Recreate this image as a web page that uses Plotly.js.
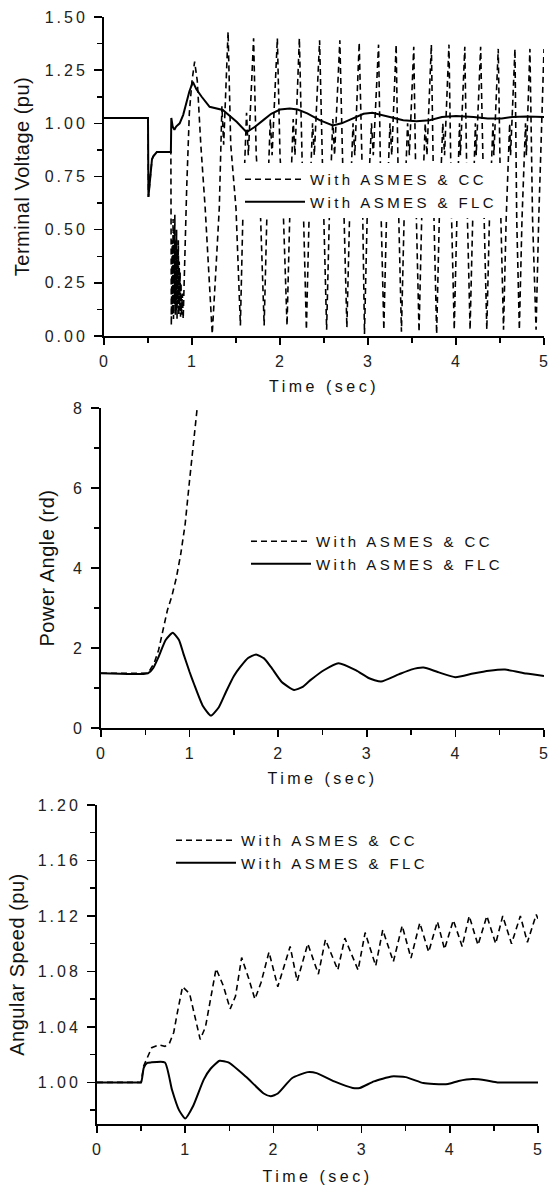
<!DOCTYPE html>
<html>
<head>
<meta charset="utf-8">
<script src="https://cdn.plot.ly/plotly-3.0.1.min.js"></script>
<style>
  html, body { margin: 0; padding: 0; background: #fff; }
  #chart { width: 552px; height: 1185px; }
  text.legendtext, g[class^="legend"] text { letter-spacing: 3.4px; }
  .g-xtitle text, .g-x2title text, .g-x3title text { letter-spacing: 3.5px; }
  .g-ytitle text, .g-y2title text, .g-y3title text { letter-spacing: 0.5px; }
  .xtick text, .x2tick text, .x3tick text { letter-spacing: 1px; }
  .ytick text, .y2tick text, .y3tick text { letter-spacing: 3px; }
</style>
</head>
<body>
<div id="chart"></div>
<script>
// ---------- Terminal voltage (pu) ----------
const vFlcT = [0, 0.5, 0.505, 0.515, 0.53, 0.545, 0.56, 0.6, 0.76, 0.765, 0.78, 0.8, 0.82, 0.86, 0.9, 0.94, 0.97, 1.01, 1.05, 1.11, 1.2, 1.35, 1.45, 1.51, 1.62, 1.72, 1.81, 1.9, 2.0, 2.11, 2.2, 2.31, 2.45, 2.6, 2.7, 2.83, 2.95, 3.05, 3.15, 3.25, 3.4, 3.55, 3.7, 3.84, 4.0, 4.2, 4.36, 4.52, 4.64, 4.8, 5.0];
const vFlcV = [1.025, 1.025, 0.654, 0.70, 0.80, 0.83, 0.845, 0.865, 0.865, 1.025, 0.985, 0.97, 0.985, 1.0, 1.04, 1.11, 1.15, 1.195, 1.16, 1.125, 1.078, 1.063, 1.03, 1.006, 0.958, 0.985, 1.015, 1.045, 1.065, 1.07, 1.065, 1.047, 1.015, 0.99, 1.0, 1.023, 1.045, 1.05, 1.04, 1.03, 1.015, 1.01, 1.015, 1.03, 1.035, 1.03, 1.023, 1.023, 1.03, 1.032, 1.03];

const vCcT = [0, 0.5, 0.505, 0.515, 0.53, 0.545, 0.56, 0.6, 0.76,
  0.765, 0.775, 0.78, 0.785, 0.79, 0.795, 0.8, 0.805, 0.81, 0.815, 0.82, 0.825, 0.83, 0.835, 0.84, 0.845, 0.85, 0.855, 0.86, 0.865, 0.87, 0.875, 0.88, 0.89, 0.9,
  0.94, 0.97, 1.0, 1.03, 1.06, 1.1, 1.15, 1.2, 1.23, 1.27, 1.31, 1.34, 1.36, 1.41, 1.44, 1.5, 1.55, 1.58, 1.62, 1.64, 1.70, 1.73, 1.78, 1.82, 1.85, 1.89, 1.91, 1.97, 2.00, 2.04, 2.08, 2.11, 2.15, 2.17, 2.22, 2.25, 2.27, 2.30, 2.33, 2.37, 2.39, 2.45, 2.48, 2.50, 2.53, 2.56, 2.60, 2.62, 2.68, 2.71, 2.73, 2.76, 2.79, 2.83, 2.85, 2.90, 2.93, 2.94, 2.96, 2.99, 3.04, 3.06, 3.12, 3.15, 3.18, 3.21, 3.25, 3.27, 3.32, 3.35, 3.38, 3.41, 3.45, 3.47, 3.52, 3.55, 3.58, 3.61, 3.65, 3.67, 3.72, 3.75, 3.78, 3.81, 3.85, 3.87, 3.92, 3.95, 3.98, 4.01, 4.04, 4.05, 4.10, 4.13, 4.16, 4.19, 4.22, 4.23, 4.28, 4.32, 4.35, 4.38, 4.42, 4.43, 4.48, 4.51, 4.54, 4.57, 4.61, 4.62, 4.67, 4.69, 4.72, 4.75, 4.79, 4.80, 4.84, 4.87, 4.91, 4.94, 4.97, 5.0];
const vCcV = [1.025, 1.025, 0.654, 0.70, 0.80, 0.83, 0.845, 0.865, 0.865,
  0.05, 0.45, 0.1, 0.55, 0.08, 0.5, 0.15, 0.57, 0.1, 0.45, 0.12, 0.5, 0.08, 0.4, 0.15, 0.45, 0.1, 0.35, 0.12, 0.3, 0.09, 0.25, 0.1, 0.2, 0.08,
  0.7, 1.05, 1.2, 1.29, 1.2, 0.9, 0.6, 0.2, 0.01, 0.3, 0.6, 1.08, 0.9, 1.43, 0.9, 0.6, 0.05, 0.6, 1.05, 0.85, 1.40, 0.85, 0.55, 0.05, 0.55, 1.02, 0.85, 1.40, 0.85, 0.55, 0.05, 0.55, 1.02, 0.85, 1.40, 0.85, 0.55, 0.03, 0.55, 1.0, 0.85, 1.39, 0.85, 0.55, 0.03, 0.55, 1.02, 0.85, 1.39, 0.85, 0.55, 0.04, 0.55, 1.0, 0.85, 1.38, 0.85, 0.55, 0.01, 0.55, 1.0, 0.85, 1.37, 0.55, 0.03, 0.55, 1.0, 0.85, 1.37, 0.55, 0.02, 0.55, 1.0, 0.85, 1.36, 0.55, 0.02, 0.55, 1.0, 0.85, 1.37, 0.55, 0.01, 0.55, 1.0, 0.85, 1.37, 0.55, 0.03, 0.55, 1.0, 0.85, 1.36, 0.55, 0.03, 0.55, 1.0, 0.85, 1.36, 0.55, 0.03, 0.55, 1.0, 0.85, 1.35, 0.55, 0.03, 0.55, 1.0, 0.85, 1.35, 0.55, 0.03, 0.55, 1.0, 0.85, 1.35, 0.55, 0.03, 0.55, 1.0, 1.35];

// ---------- Power angle (rd) ----------
const aFlcT = [0, 0.53, 0.59, 0.65, 0.73, 0.81, 0.88, 0.93, 1.0, 1.05, 1.15, 1.24, 1.33, 1.41, 1.5, 1.57, 1.66, 1.75, 1.84, 1.92, 2.04, 2.18, 2.27, 2.36, 2.52, 2.68, 2.88, 3.02, 3.16, 3.36, 3.5, 3.64, 3.8, 4.0, 4.2, 4.38, 4.56, 4.8, 5.0];
const aFlcV = [1.37, 1.37, 1.5, 1.78, 2.2, 2.38, 2.2, 1.86, 1.4, 1.1, 0.55, 0.31, 0.52, 0.9, 1.3, 1.52, 1.75, 1.84, 1.74, 1.52, 1.15, 0.95, 1.02, 1.19, 1.45, 1.62, 1.44, 1.25, 1.16, 1.34, 1.46, 1.51, 1.40, 1.27, 1.36, 1.43, 1.46, 1.36, 1.30];
const aCcT = [0, 0.53, 0.6, 0.65, 0.7, 0.75, 0.8, 0.85, 0.9, 0.95, 1.0, 1.05, 1.085, 1.1];
const aCcV = [1.37, 1.37, 1.62, 1.95, 2.45, 2.95, 3.3, 3.75, 4.35, 5.1, 6.2, 7.3, 8.0, 8.3];

// ---------- Angular speed (pu) ----------
const sFlcT = [0, 0.45, 0.5, 0.53, 0.57, 0.61, 0.77, 0.85, 0.93, 1.0, 1.09, 1.21, 1.29, 1.39, 1.49, 1.69, 1.89, 1.97, 2.05, 2.21, 2.39, 2.49, 2.69, 2.9, 2.98, 3.14, 3.34, 3.5, 3.7, 3.82, 3.98, 4.1, 4.26, 4.42, 4.54, 5.0];
const sFlcV = [1.0, 1.0, 1.0, 1.0105, 1.014, 1.0144, 1.0144, 0.9947, 0.980, 0.974, 0.983, 1.002, 1.010, 1.0156, 1.0144, 1.004, 0.992, 0.990, 0.992, 1.003, 1.0074, 1.0067, 1.0007, 0.996, 0.996, 1.0007, 1.0043, 1.0038, 0.9995, 0.9988, 0.9988, 1.001, 1.0024, 1.0014, 1.0, 1.0];
const sCcT = [0, 0.5, 0.53, 0.57, 0.62, 0.7, 0.77, 0.82, 0.87, 0.91, 0.97, 1.05, 1.11, 1.17, 1.23, 1.35, 1.43, 1.51, 1.57, 1.64, 1.72, 1.79, 1.86, 1.95, 2.05, 2.19, 2.27, 2.39, 2.51, 2.59, 2.73, 2.81, 2.96, 3.04, 3.16, 3.24, 3.36, 3.46, 3.56, 3.66, 3.76, 3.86, 3.94, 4.04, 4.14, 4.22, 4.32, 4.42, 4.52, 4.60, 4.70, 4.80, 4.88, 4.98, 5.0];
const sCcV = [1.0, 1.0, 1.012, 1.018, 1.025, 1.027, 1.026, 1.028, 1.036, 1.05, 1.069, 1.064, 1.047, 1.031, 1.04, 1.082, 1.07, 1.053, 1.062, 1.090, 1.075, 1.060, 1.072, 1.094, 1.069, 1.098, 1.073, 1.100, 1.078, 1.103, 1.081, 1.104, 1.081, 1.108, 1.084, 1.110, 1.087, 1.113, 1.0896, 1.115, 1.094, 1.116, 1.096, 1.117, 1.098, 1.12, 1.099, 1.12, 1.100, 1.12, 1.100, 1.12, 1.101, 1.121, 1.118];

const seriesNames = ['With ASMES & CC', 'With ASMES & FLC'];

const xTickVals = [0, 1, 2, 3, 4, 5];
const ccLine = {color: '#000', width: 1.6, dash: '6px,4px'};
const flcLine = {color: '#000', width: 2};
const flcSmooth = {color: '#000', width: 2, shape: 'spline', smoothing: 0.5};

const traces = [
  {x: vCcT, y: vCcV, name: seriesNames[0], mode: 'lines', line: ccLine, xaxis: 'x', yaxis: 'y', legend: 'legend'},
  {x: vFlcT, y: vFlcV, name: seriesNames[1], mode: 'lines', line: flcLine, xaxis: 'x', yaxis: 'y', legend: 'legend'},
  {x: aCcT, y: aCcV, name: seriesNames[0], mode: 'lines', line: ccLine, xaxis: 'x2', yaxis: 'y2', legend: 'legend2'},
  {x: aFlcT, y: aFlcV, name: seriesNames[1], mode: 'lines', line: flcSmooth, xaxis: 'x2', yaxis: 'y2', legend: 'legend2'},
  {x: sCcT, y: sCcV, name: seriesNames[0], mode: 'lines', line: ccLine, xaxis: 'x3', yaxis: 'y3', legend: 'legend3'},
  {x: sFlcT, y: sFlcV, name: seriesNames[1], mode: 'lines', line: flcSmooth, xaxis: 'x3', yaxis: 'y3', legend: 'legend3'}
];

const W = 552, H = 1185;
const FAM = 'Liberation Sans, Arial, sans-serif';
const tickFont = {family: FAM, size: 16, color: '#222'};
const titleFont = {family: FAM, size: 20, color: '#111'};
const xTitleFont = {family: FAM, size: 16, color: '#111'};

function xAxis(left, right, anchor, standoff) {
  return {
    domain: [left / W, right / W], anchor: anchor, range: [0, 5],
    showline: true, linecolor: '#000', linewidth: 2, ticks: 'outside', ticklen: 7, tickwidth: 1.5, tickcolor: '#000',
    tickvals: xTickVals, showgrid: false, zeroline: false, tickfont: tickFont, ticklabelstandoff: 3,
    minor: {ticks: 'outside', ticklen: 5, tickwidth: 1.5, tickcolor: '#000', dtick: 0.5, tick0: 0, showgrid: false},
    title: {text: 'Time (sec)', font: xTitleFont, standoff: standoff}
  };
}
function yAxis(top, bottom, anchor, range, tick0, dtick, minorDtick, fmt, title, standoff) {
  return {
    domain: [(H - bottom) / H, (H - top) / H], anchor: anchor, range: range,
    showline: true, linecolor: '#000', linewidth: 2, ticks: 'outside', ticklen: 8, tickwidth: 1.5, tickcolor: '#000',
    tick0: tick0, dtick: dtick, tickformat: fmt, showgrid: false, zeroline: false, tickfont: tickFont, ticklabelstandoff: 3,
    minor: {ticks: 'outside', ticklen: 5, tickwidth: 1.5, tickcolor: '#000', dtick: minorDtick, tick0: tick0, showgrid: false},
    title: {text: title, font: titleFont, standoff: standoff}
  };
}

const legendFont = {family: FAM, size: 15, color: '#111'};
const layout = {
  width: W, height: H,
  margin: {l: 0, r: 0, t: 0, b: 0},
  paper_bgcolor: '#fff', plot_bgcolor: '#fff',
  showlegend: true,
  xaxis: xAxis(104, 544, 'y', 12),
  yaxis: yAxis(17, 336, 'x', [0, 1.5], 0, 0.25, 0.125, '.2f', 'Terminal Voltage (pu)', 10),
  xaxis2: xAxis(101, 544, 'y2', 12),
  yaxis2: yAxis(408, 728, 'x2', [0, 8], 0, 2, 1, 'd', 'Power Angle (rd)', 13),
  xaxis3: xAxis(97, 538, 'y3', 14),
  yaxis3: yAxis(805, 1124, 'x3', [0.97, 1.2], 1, 0.04, 0.02, '.2f', 'Angular Speed (pu)', 8),
  legend: {x: 240 / W, y: (H - 163) / H, xanchor: 'left', yanchor: 'top', bgcolor: '#fff', font: legendFont, itemwidth: 60},
  legend2: {x: 246 / W, y: (H - 525) / H, xanchor: 'left', yanchor: 'top', bgcolor: 'rgba(255,255,255,0)', font: legendFont, itemwidth: 60},
  legend3: {x: 171 / W, y: (H - 824) / H, xanchor: 'left', yanchor: 'top', bgcolor: 'rgba(255,255,255,0)', font: legendFont, itemwidth: 60}
};

Plotly.newPlot('chart', traces, layout, {staticPlot: true, displayModeBar: false});
</script>
</body>
</html>
